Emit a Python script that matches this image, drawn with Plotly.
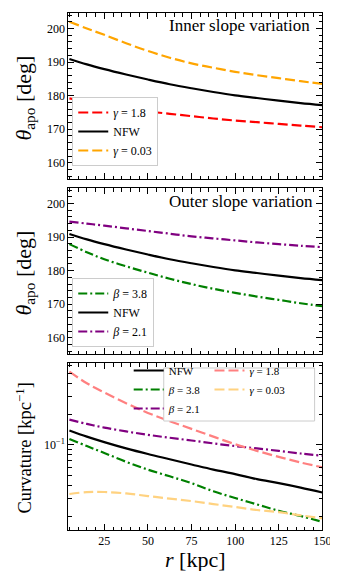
import plotly.graph_objects as go

# radius grid (kpc)
r = [5, 15, 25, 37.5, 50, 62.5, 75, 87.5, 100, 112.5, 125, 137.5, 150]

# apocentre angle (deg)
theta_nfw = [190.9, 189.3, 187.9, 186.3, 184.8, 183.4, 182.2, 181.1, 180.1, 179.3, 178.5, 177.8, 177.2]
theta_g18 = [179.2, 178.2, 177.3, 176.2, 175.3, 174.6, 173.9, 173.2, 172.6, 172.1, 171.6, 171.1, 170.6]
theta_g003 = [202.0, 200.0, 198.1, 195.6, 193.3, 191.3, 189.6, 188.3, 187.1, 186.1, 185.2, 184.3, 183.5]
theta_b38 = [187.9, 185.5, 183.4, 181.3, 179.4, 177.6, 176.0, 174.6, 173.4, 172.3, 171.3, 170.3, 169.4]
theta_b21 = [194.6, 194.0, 193.4, 192.6, 191.8, 191.0, 190.2, 189.6, 189.0, 188.4, 187.9, 187.4, 187.0]

# curvature (1/kpc)
curv_nfw = [0.138, 0.120, 0.106, 0.092, 0.081, 0.072, 0.064, 0.057, 0.0515, 0.046, 0.042, 0.038, 0.034]
curv_b38 = [0.114, 0.097, 0.083, 0.068, 0.057, 0.049, 0.042, 0.035, 0.030, 0.026, 0.0225, 0.020, 0.0175]
curv_b21 = [0.176, 0.160, 0.147, 0.135, 0.125, 0.117, 0.110, 0.103, 0.097, 0.092, 0.087, 0.082, 0.078]
curv_g18 = [0.52, 0.40, 0.325, 0.255, 0.205, 0.17, 0.143, 0.12, 0.101, 0.087, 0.076, 0.067, 0.060]
curv_g003 = [0.0329, 0.0343, 0.0344, 0.0333, 0.0314, 0.0296, 0.0280, 0.0262, 0.0245, 0.0229, 0.0218, 0.0203, 0.019]

W, H = 338, 571
FONT = "Liberation Serif"
DASH = "10px,4px"
DASHDOT = "9px,3px,2px,3px"

fig = go.Figure()


def add(y, name, color, dash, xa, ya, leg):
    fig.add_trace(go.Scatter(
        x=r, y=y, name=name, mode="lines", xaxis=xa, yaxis=ya, legend=leg,
        line=dict(color=color, width=2.2, dash=dash, shape="spline"),
    ))


# panel 1: inner slope
add(theta_g18, "<i>γ</i> = 1.8", "red", DASH, "x", "y", "legend")
add(theta_nfw, "NFW", "black", "solid", "x", "y", "legend")
add(theta_g003, "<i>γ</i> = 0.03", "orange", DASH, "x", "y", "legend")

# panel 2: outer slope
add(theta_b38, "<i>β</i> = 3.8", "green", DASHDOT, "x2", "y2", "legend2")
add(theta_nfw, "NFW", "black", "solid", "x2", "y2", "legend2")
add(theta_b21, "<i>β</i> = 2.1", "purple", DASHDOT, "x2", "y2", "legend2")

# panel 3: curvature
add(curv_nfw, "NFW", "black", "solid", "x3", "y3", "legend3")
add(curv_b38, "<i>β</i> = 3.8", "green", DASHDOT, "x3", "y3", "legend3")
add(curv_b21, "<i>β</i> = 2.1", "purple", DASHDOT, "x3", "y3", "legend3")
add(curv_g18, "<i>γ</i> = 1.8", "#ff8080", DASH, "x3", "y3", "legend4")
add(curv_g003, "<i>γ</i> = 0.03", "#ffd280", DASH, "x3", "y3", "legend4")


def px_x(v):
    return v / W


def px_y(v):
    return 1 - v / H


xdom = [px_x(62), px_x(323)]
doms = [[px_y(171), px_y(5)], [px_y(346), px_y(180)], [px_y(522), px_y(355)]]

ax_common = dict(
    showline=True, linecolor="black", linewidth=1, mirror="allticks",
    ticks="inside", ticklen=6, tickwidth=1, tickcolor="black",
    showgrid=False, zeroline=False,
    tickfont=dict(family=FONT, size=12, color="black"),
)
xcommon = dict(ax_common, range=[4.4, 150], dtick=25, tick0=0,
               minor=dict(ticks="inside", ticklen=3.5, tickcolor="black", dtick=5, tick0=0))
theta_y = dict(ax_common, range=[155.2, 204.6], dtick=10, tick0=0,
               minor=dict(ticks="inside", ticklen=3.5, tickcolor="black", dtick=2, tick0=0))

fig.update_layout(
    width=W, height=H, margin=dict(l=0, r=0, t=0, b=0),
    paper_bgcolor="white", plot_bgcolor="white",
    font=dict(family=FONT, color="black"),
    xaxis=dict(xcommon, domain=xdom, anchor="y", showticklabels=False),
    yaxis=dict(theta_y, domain=doms[0], anchor="x"),
    xaxis2=dict(xcommon, domain=xdom, anchor="y2", showticklabels=False),
    yaxis2=dict(theta_y, domain=doms[1], anchor="x2"),
    xaxis3=dict(xcommon, domain=xdom, anchor="y3"),
    yaxis3=dict(ax_common, domain=doms[2], anchor="x3", type="log",
                range=[-1.836, -0.199], tickmode="array", tickvals=[0.1],
                ticktext=["10<sup>−1</sup>"],
                minor=dict(ticks="inside", ticklen=3.5, tickcolor="black", tickmode="array",
                           tickvals=[0.02, 0.03, 0.04, 0.05, 0.06, 0.07, 0.08, 0.09,
                                     0.2, 0.3, 0.4, 0.5, 0.6])),
    legend=dict(x=px_x(66), y=px_y(158), xanchor="left", yanchor="bottom",
                bgcolor="white", bordercolor="#cccccc", borderwidth=1,
                font=dict(family=FONT, size=12)),
    legend2=dict(x=px_x(66), y=px_y(339), xanchor="left", yanchor="bottom",
                 bgcolor="white", bordercolor="#cccccc", borderwidth=1,
                 font=dict(family=FONT, size=12)),
    legend3=dict(x=px_x(124), y=px_y(348), xanchor="left", yanchor="top",
                 bgcolor="rgba(0,0,0,0)", borderwidth=0,
                 font=dict(family=FONT, size=11)),
    legend4=dict(x=px_x(207), y=px_y(348), xanchor="left", yanchor="top",
                 bgcolor="rgba(0,0,0,0)", borderwidth=0,
                 font=dict(family=FONT, size=11)),
    showlegend=True,
)

# box framing the two-column curvature legend
fig.add_shape(type="rect", xref="paper", yref="paper",
              x0=px_x(160), x1=px_x(315), y0=px_y(413), y1=px_y(360),
              fillcolor="white", line=dict(color="#cccccc", width=1), layer="above")

ann = [
    dict(text="Inner slope variation", x=px_x(312), y=px_y(18), xanchor="right",
         yanchor="middle", font=dict(size=17)),
    dict(text="Outer slope variation", x=px_x(315), y=px_y(194), xanchor="right",
         yanchor="middle", font=dict(size=17)),
    dict(text="<i>θ</i><sub>apo</sub> [deg]", x=px_x(17), y=px_y(90), textangle=-90,
         xanchor="center", yanchor="middle", font=dict(size=22)),
    dict(text="<i>θ</i><sub>apo</sub> [deg]", x=px_x(17), y=px_y(265), textangle=-90,
         xanchor="center", yanchor="middle", font=dict(size=22)),
    dict(text="Curvature [kpc<sup>−1</sup>]", x=px_x(16), y=px_y(440), textangle=-90,
         xanchor="center", yanchor="middle", font=dict(size=18.5)),
    dict(text="<i>r</i> [kpc]", x=px_x(192), y=px_y(551), xanchor="center",
         yanchor="middle", font=dict(size=22)),
]
for a in ann:
    a.update(xref="paper", yref="paper", showarrow=False)
    a["font"].update(family=FONT, color="black")
    fig.add_annotation(**a)

fig.write_html("out.html")
